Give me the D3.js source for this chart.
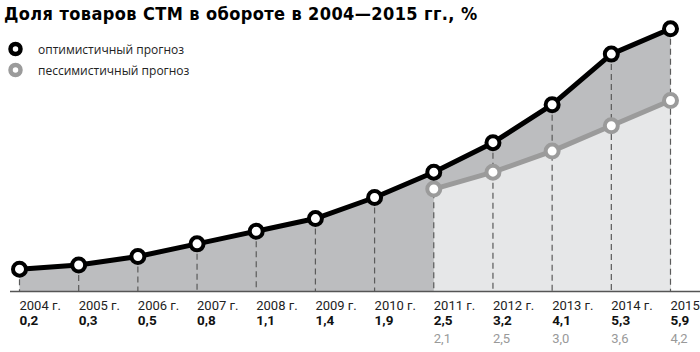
<!DOCTYPE html>
<html>
<head>
<meta charset="utf-8">
<script src="https://cdn.jsdelivr.net/npm/d3@7"></script>
<style>
  html, body { margin: 0; padding: 0; background: #fff; }
  svg { display: block; }
</style>
</head>
<body>
<svg id="chart" width="700" height="352"></svg>
<script>
const title = "Доля товаров СТМ в обороте в 2004—2015 гг., %";
const years = ["2004 г.", "2005 г.", "2006 г.", "2007 г.", "2008 г.", "2009 г.", "2010 г.", "2011 г.", "2012 г.", "2013 г.", "2014 г.", "2015 г."];
const optimistic = [0.2, 0.3, 0.5, 0.8, 1.1, 1.4, 1.9, 2.5, 3.2, 4.1, 5.3, 5.9];
const pessimisticYears = ["2011 г.", "2012 г.", "2013 г.", "2014 г.", "2015 г."];
const pessimistic = [2.1, 2.5, 3.0, 3.6, 4.2];
const legendLabels = ["оптимистичный прогноз", "пессимистичный прогноз"];

const fmt = v => d3.format(".1f")(v).replace(".", ",");

const svg = d3.select("#chart");
const font = "Roboto, 'DejaVu Sans', sans-serif";

const x = d3.scalePoint().domain(years).range([19.5, 670.5]);
const y = d3.scaleLinear().domain([0, 6]).range([277.6, 24.6]);
const baseY = 291.5;

const optData = years.map((yr, i) => ({ yr, v: optimistic[i] }));
const pesData = pessimisticYears.map((yr, i) => ({ yr, v: pessimistic[i] }));

// areas
const area = d3.area().x(d => x(d.yr)).y0(baseY).y1(d => y(d.v));
svg.append("path").datum(optData).attr("d", area).attr("fill", "#bcbdbf");
svg.append("path").datum(pesData).attr("d", area).attr("fill", "#e6e7e8");

// dashed verticals
svg.append("g").selectAll("line").data(optData).join("line")
  .attr("x1", d => x(d.yr)).attr("x2", d => x(d.yr))
  .attr("y1", d => y(d.v)).attr("y2", baseY)
  .attr("stroke", "#5a5a5a").attr("stroke-width", 1.2)
  .attr("stroke-dasharray", "6,4");

// baseline axis
const axis = d3.axisBottom(x).tickSize(0).tickFormat("");
const axG = svg.append("g").attr("transform", `translate(0,${baseY})`).call(axis);
axG.select(".domain").remove();
svg.append("line").attr("x1", 10).attr("x2", 700).attr("y1", baseY).attr("y2", baseY)
  .attr("stroke", "#555").attr("stroke-width", 1.5);

// lines
const line = d3.line().x(d => x(d.yr)).y(d => y(d.v));
svg.append("path").datum(pesData).attr("d", line).attr("fill", "none")
  .attr("stroke", "#9b9b9b").attr("stroke-width", 5).attr("stroke-linejoin", "round");
svg.append("path").datum(optData).attr("d", line).attr("fill", "none")
  .attr("stroke", "#000").attr("stroke-width", 5).attr("stroke-linejoin", "round");

// markers
svg.append("g").selectAll("circle").data(pesData).join("circle")
  .attr("cx", d => x(d.yr)).attr("cy", d => y(d.v)).attr("r", 6.5)
  .attr("fill", "#fff").attr("stroke", "#9b9b9b").attr("stroke-width", 4);
svg.append("g").selectAll("circle").data(optData).join("circle")
  .attr("cx", d => x(d.yr)).attr("cy", d => y(d.v)).attr("r", 6.5)
  .attr("fill", "#fff").attr("stroke", "#000").attr("stroke-width", 4);

// labels
svg.append("g").selectAll("text").data(optData).join("text")
  .attr("x", d => x(d.yr)).attr("y", 309.5)
  .attr("font-family", font).attr("font-size", 13).attr("fill", "#222")
  .text(d => d.yr);
svg.append("g").selectAll("text").data(optData).join("text")
  .attr("x", d => x(d.yr)).attr("y", 324.5)
  .attr("font-family", font).attr("font-size", 13.5).attr("font-weight", "bold").attr("fill", "#111")
  .text(d => fmt(d.v));
svg.append("g").selectAll("text").data(pesData).join("text")
  .attr("x", d => x(d.yr)).attr("y", 342.5)
  .attr("font-family", font).attr("font-size", 13).attr("fill", "#999")
  .text(d => fmt(d.v));

// title
svg.append("text").attr("x", 4).attr("y", 20)
  .attr("font-family", "'DejaVu Sans Condensed', 'DejaVu Sans', sans-serif")
  .attr("font-stretch", "condensed")
  .attr("font-size", 18).attr("font-weight", "bold").attr("fill", "#000")
  .attr("letter-spacing", 0.4)
  .text(title);

// legend
const legColors = ["#000", "#9b9b9b"];
legendLabels.forEach((lab, i) => {
  const ly = 49 + i * 21;
  svg.append("circle").attr("cx", 15.5).attr("cy", ly).attr("r", 5)
    .attr("fill", "#fff").attr("stroke", legColors[i]).attr("stroke-width", 4.5);
  svg.append("text").attr("x", 38).attr("y", ly + 4.5)
    .attr("font-family", "'Open Sans', sans-serif").attr("font-size", 12).attr("fill", "#222")
    .text(lab);
});
</script>
</body>
</html>
